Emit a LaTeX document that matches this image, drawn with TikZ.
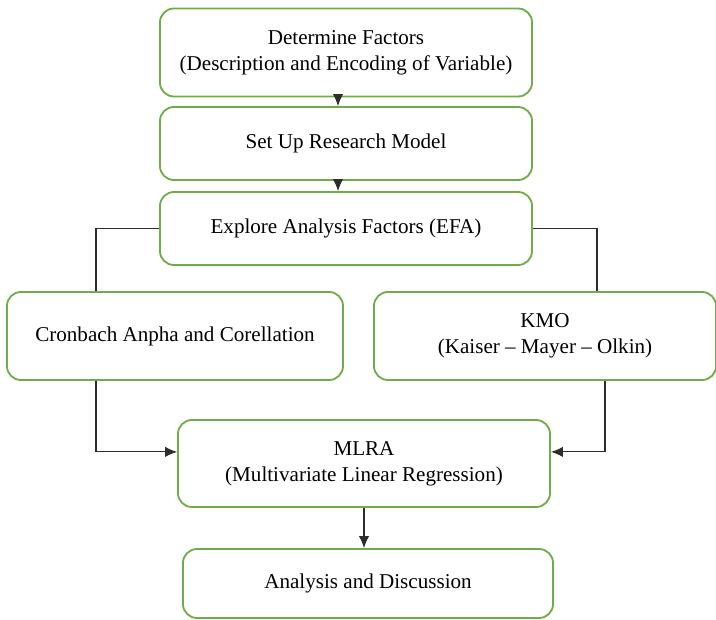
\documentclass[tikz,border=0pt]{standalone}
\usepackage{fontspec}
\setmainfont{Liberation Serif}
\usetikzlibrary{arrows.meta,positioning}
\definecolor{boxgreen}{RGB}{112,173,71}
\definecolor{linegray}{RGB}{45,45,45}
\tikzset{
    stage/.style={
        draw=boxgreen,line width=1.3pt,rounded corners=0.35cm,fill=white,
        align=center,inner sep=0pt,font=\fontsize{15}{18.5}\selectfont
    },
    link/.style={draw=linegray,line width=0.8pt},
    arrow/.style={
        -{Latex[length=3mm,width=2.6mm]},draw=linegray,line width=0.8pt
    }
}
\begin{document}
\begin{tikzpicture}[x=0.025cm,y=-0.025cm]

\useasboundingbox (0,0) rectangle (716,619);

\node[stage,minimum width=9.3cm,minimum height=2.2cm]
(factors) at (346,52.5)
{Determine Factors\\(Description and Encoding of Variable)};

\node[stage,minimum width=9.3cm,minimum height=1.825cm]
(model) at (346,143.5)
{Set Up Research Model};

\node[stage,minimum width=9.3cm,minimum height=1.825cm]
(efa) at (346,228.5)
{Explore Analysis Factors (EFA)};

\node[stage,minimum width=8.4cm,minimum height=2.2cm]
(cron) at (175,336)
{Cronbach Anpha and Corellation};

\node[stage,minimum width=8.55cm,minimum height=2.2cm]
(kmo) at (545,336)
{KMO\\(Kaiser -- Mayer -- Olkin)};

\node[stage,minimum width=9.3cm,minimum height=2.175cm]
(mlra) at (364,463.5)
{MLRA\\(Multivariate Linear Regression)};

\node[stage,minimum width=9.25cm,minimum height=1.725cm]
(discuss) at (368,583.5)
{Analysis and Discussion};

\draw[arrow] ([xshift=-0.2cm]factors.south) -- ([xshift=-0.2cm]model.north);
\draw[arrow] ([xshift=-0.2cm]model.south) -- ([xshift=-0.2cm]efa.north);

\draw[link] (efa.west) -| ([xshift=-1.975cm]cron.north);
\draw[link] (efa.east) -| ([xshift=1.3cm]kmo.north);

\draw[arrow] ([xshift=-1.975cm]cron.south) |- ([yshift=0.29cm]mlra.west);
\draw[arrow] ([xshift=1.5cm]kmo.south) |- ([yshift=0.29cm]mlra.east);

\draw[arrow] (mlra.south) -- (mlra.south |- discuss.north);

\end{tikzpicture}
\end{document}
